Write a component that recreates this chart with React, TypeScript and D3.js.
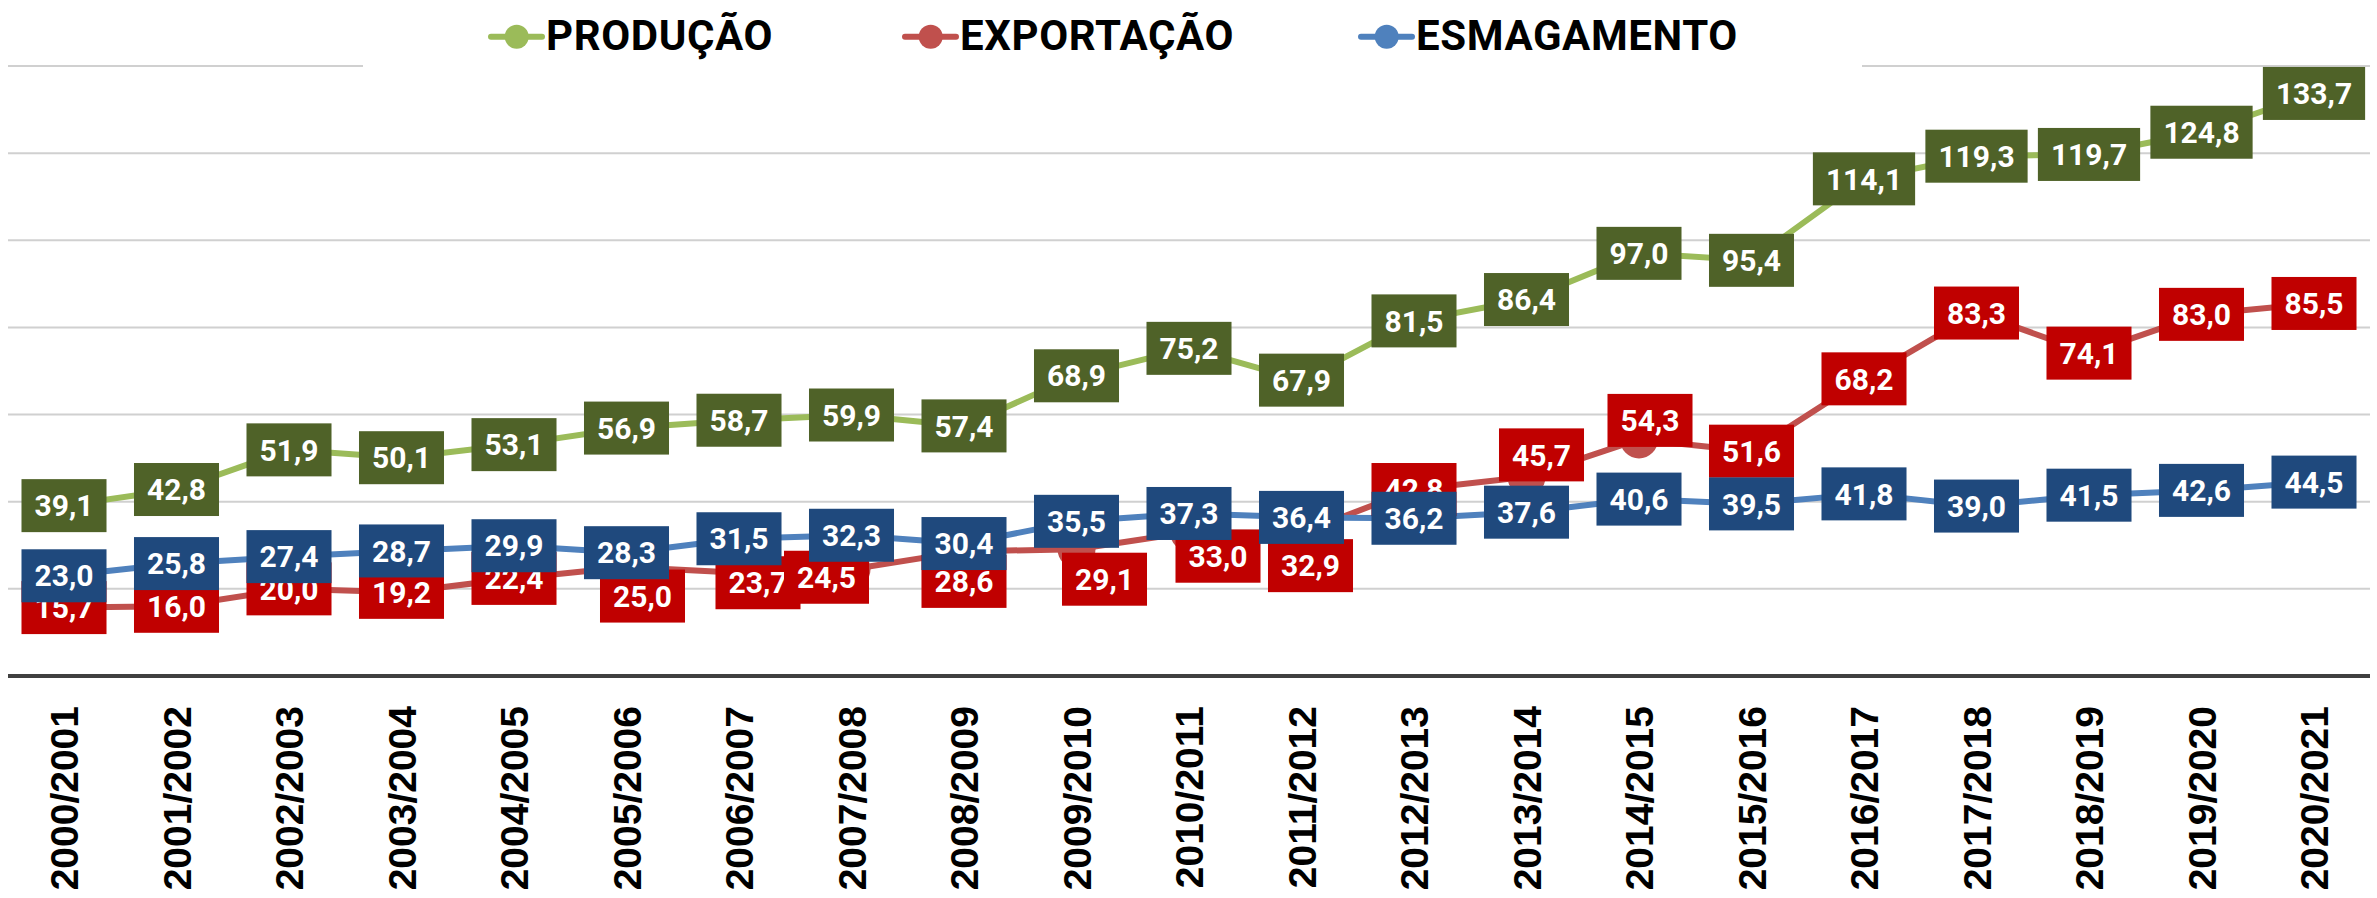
import React from 'react';
import * as d3 from 'd3';

const categories = ['2000/2001','2001/2002','2002/2003','2003/2004','2004/2005','2005/2006','2006/2007','2007/2008','2008/2009','2009/2010','2010/2011','2011/2012','2012/2013','2013/2014','2014/2015','2015/2016','2016/2017','2017/2018','2018/2019','2019/2020','2020/2021'];
const producao = [39.1, 42.8, 51.9, 50.1, 53.1, 56.9, 58.7, 59.9, 57.4, 68.9, 75.2, 67.9, 81.5, 86.4, 97.0, 95.4, 114.1, 119.3, 119.7, 124.8, 133.7];
const exportacao = [15.7, 16.0, 20.0, 19.2, 22.4, 25.0, 23.7, 24.5, 28.6, 29.1, 33.0, 32.9, 42.8, 45.7, 54.3, 51.6, 68.2, 83.3, 74.1, 83.0, 85.5];
const esmagamento = [23.0, 25.8, 27.4, 28.7, 29.9, 28.3, 31.5, 32.3, 30.4, 35.5, 37.3, 36.4, 36.2, 37.6, 40.6, 39.5, 41.8, 39.0, 41.5, 42.6, 44.5];
const yTicks = [0, 20, 40, 60, 80, 100, 120, 140];

// manual label nudges (px) for the EXPORTAÇÃO series, like dragged Excel labels
const exportLabelNudge: [number, number][] = [
  [0, 0], [0, 0], [0, 0], [0, 0], [0, 0], [16, 29], [19, 10], [-25, 8], [0, 30], [28, 30], [29, 24],
  [9, 33], [0, 0], [15, -22], [11, -19], [0, 0], [0, 0], [0, 0], [0, 0], [0, 0], [0, 0],
];

const W = 2377, H = 898;
const fmt = (v: number) => v.toFixed(1).replace('.', ',');

let ctx: CanvasRenderingContext2D | null = null;
function measure(t: string, font: string) {
  if (!ctx) ctx = document.createElement('canvas').getContext('2d');
  if (!ctx) return t.length * 17;
  ctx.font = font;
  return ctx.measureText(t).width;
}

const series = [
  { name: 'PRODUÇÃO', values: producao, line: '#9BBB59', box: '#4F6228', legendX: 491 },
  { name: 'EXPORTAÇÃO', values: exportacao, line: '#C0504D', box: '#C00000', legendX: 905, nudge: exportLabelNudge },
  { name: 'ESMAGAMENTO', values: esmagamento, line: '#4F81BD', box: '#1F497D', legendX: 1361 },
];

export default function App() {
  const x = d3.scaleBand<string>().domain(categories).range([7.75, 2370.25]);
  const cx = (c: string) => (x(c) as number) + x.bandwidth() / 2;
  const y = d3.scaleLinear().domain([0, 140]).range([676, 66]);
  const labelFont = 'bold 30px Roboto';

  return (
    <svg width={W} height={H} style={{ position: 'absolute', left: 0, top: 0, background: '#fff' }}>
      <rect x={0} y={0} width={W} height={H} fill="#fff" />
      {yTicks.filter(t => t > 0).map(t => (
        <line key={t} x1={8} x2={2370} y1={y(t)} y2={y(t)} stroke="#D0D0D0" strokeWidth={2} />
      ))}
      {/* legend background hides top gridline */}
      <rect x={363} y={0} width={1862 - 363} height={80} fill="#fff" />
      <line x1={8} x2={2370} y1={y(0)} y2={y(0)} stroke="#404040" strokeWidth={4} />

      {series.map(s => {
        const path = d3.line<number>().x((_, i) => cx(categories[i])).y(v => y(v))(s.values) || '';
        return (
          <g key={s.name}>
            <path d={path} fill="none" stroke={s.line} strokeWidth={6} strokeLinejoin="round" strokeLinecap="round" />
            {s.values.map((v, i) => (
              <circle key={i} cx={cx(categories[i])} cy={y(v)} r={19} fill={s.line} />
            ))}
          </g>
        );
      })}

      {series.map(s => (
        <g key={s.name + 'lbl'}>
          {s.values.map((v, i) => {
            const t = fmt(v);
            const w = measure(t, labelFont) + 26;
            const h = 53;
            const [dx, dy] = s.nudge ? s.nudge[i] : [0, 0];
            const px = cx(categories[i]) + dx;
            const py = y(v) + dy;
            return (
              <g key={i}>
                <rect x={px - w / 2} y={py - h / 2} width={w} height={h} fill={s.box} />
                <text x={px} y={py + 10.7} textAnchor="middle" fill="#fff"
                  style={{ font: labelFont }}>{t}</text>
              </g>
            );
          })}
        </g>
      ))}

      {categories.map(c => (
        <text key={c} transform={`translate(${cx(c)},706) rotate(-90)`} textAnchor="end" dy="0.36em"
          style={{ fontFamily: '"Liberation Sans", Arial, sans-serif', fontWeight: 'bold', fontSize: 39 }} fill="#000">{c}</text>
      ))}

      {series.map(s => (
        <g key={s.name + 'leg'}>
          <line x1={s.legendX} x2={s.legendX + 51} y1={36.7} y2={36.7} stroke={s.line} strokeWidth={6} strokeLinecap="round" />
          <circle cx={s.legendX + 25.7} cy={36.7} r={12} fill={s.line} />
          <text x={s.legendX + 55} y={50} style={{ font: 'bold 42px Roboto', letterSpacing: '0.6px' }} fill="#000">{s.name}</text>
        </g>
      ))}
    </svg>
  );
}
